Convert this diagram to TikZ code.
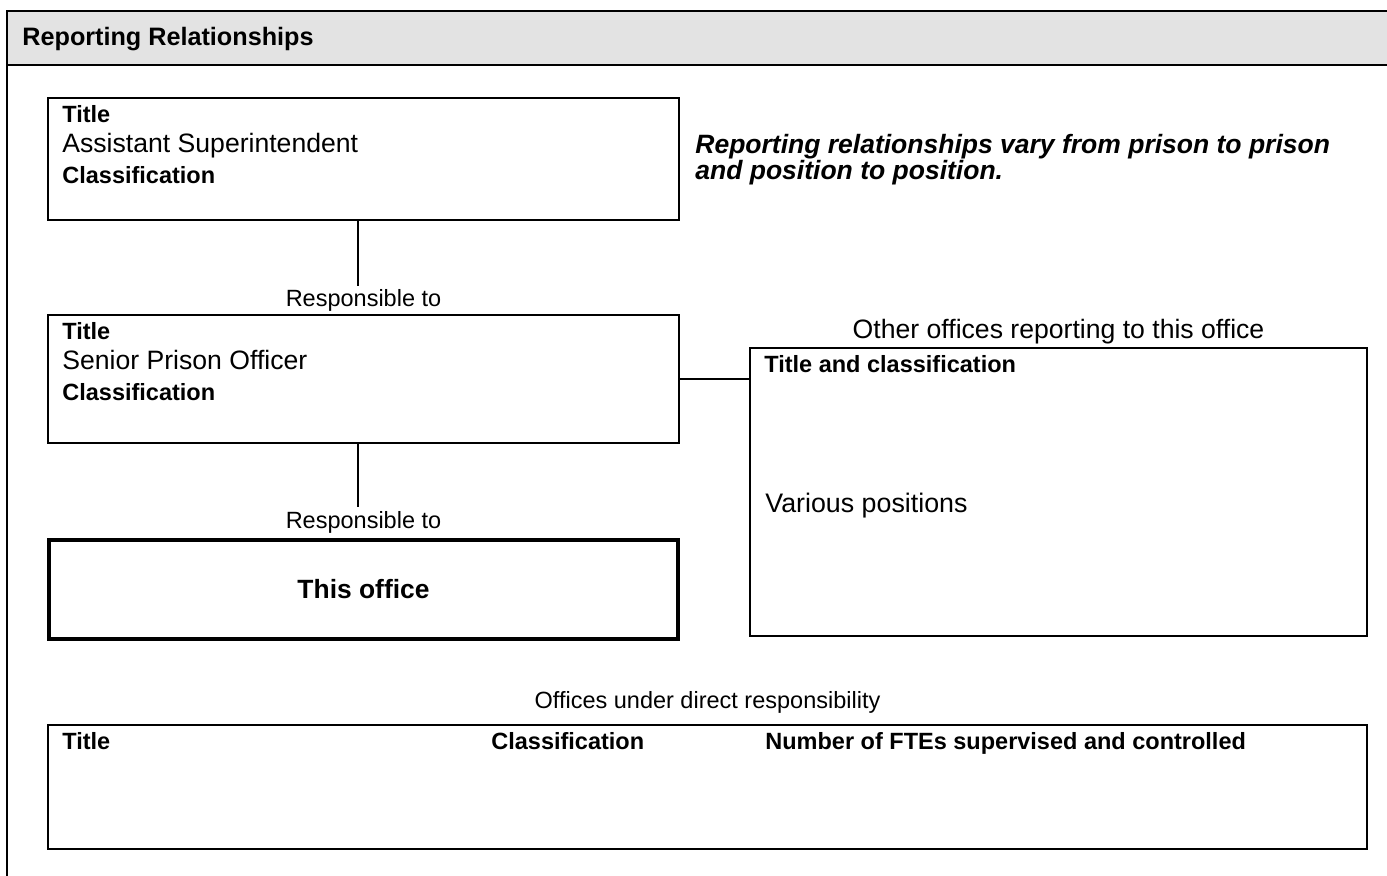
\documentclass[tikz,border=0pt]{standalone}
\usepackage{fontspec}
\setmainfont{Liberation Sans}
\usetikzlibrary{positioning,calc}
\tikzset{
    every node/.style={font=\fontsize{11.75}{15.25}\selectfont},
    officebox/.style={draw, line width=1pt, anchor=north west, inner sep=0pt},
    thisbox/.style={officebox, line width=2pt, font=\fontsize{13.2}{15}\selectfont\bfseries},
    boxtext/.style={align=left, inner sep=0pt},
    caption/.style={inner sep=0pt},
    colhead/.style={caption, anchor=base west, font=\fontsize{11.75}{15}\selectfont\bfseries},
    link/.style={line width=1pt},
}
\newcommand{\bigsize}{\fontsize{13.3}{15.25}\selectfont}

\begin{document}
\begin{tikzpicture}[x=0.5pt,y=-0.5pt]
\path[use as bounding box, clip] (0,0) rectangle (1387,876);
% header band of the form
\fill[black!11] (7,11) rectangle (1400,65);
\draw[link] (1400,11) -- (7,11) -- (7,900);
\draw[link] (7,65) -- (1400,65);
\node[caption, anchor=base west, font=\fontsize{12.6}{15}\selectfont\bfseries] (head) at (22,46) {Reporting Relationships};

% chain of offices
\node[officebox, minimum width=315.5pt, minimum height=61pt] (sup) at (47,97) {};
\node[officebox, minimum width=315.5pt, minimum height=64pt] (spo) at (47,314) {};
\node[thisbox, minimum width=314.5pt, minimum height=49.5pt] (this) at (47,538) {This office};
\node[officebox, minimum width=308.5pt, minimum height=144pt] (other) at (749,347) {};
\node[officebox, minimum width=659.5pt, minimum height=62pt] (under) at (47,724) {};

\node[boxtext, below right=4pt and 7.5pt of sup.north west] (suptxt)
  {\textbf{Title}\\{\bigsize Assistant Superintendent}\\\textbf{Classification}};
\node[boxtext, below right=4pt and 7.5pt of spo.north west] (spotxt)
  {\textbf{Title}\\{\bigsize Senior Prison Officer}\\\textbf{Classification}};
\node[boxtext, anchor=north west, font=\fontsize{13.25}{12.8}\selectfont\bfseries\itshape] (note) at (695,134)
  {Reporting relationships vary from prison to prison\\and position to position.};

\node[boxtext, below right=4pt and 7.5pt of other.north west] (othtxt) {\textbf{Title and classification}};
\node[caption, anchor=base west, font=\fontsize{13.4}{15}\selectfont] (various) at (765,513) {Various positions};

\node[boxtext, below right=4pt and 7.5pt of under.north west] (utitle) {\textbf{Title}};
\node[colhead] (ucls) at ($(utitle.base west)+(429,0)$) {Classification};
\node[colhead] (ufte) at ($(utitle.base west)+(703,0)$) {Number of FTEs supervised and controlled};

% captions over the boxes
\node[caption, above=1pt of spo.north] (resp1) {Responsible to};
\node[caption, above=2pt of this.north] (resp2) {Responsible to};
\node[caption, above=1.5pt of other.north, font=\bigsize] (otherlbl) {Other offices reporting to this office};
\node[caption, above=5pt of under.north] (underlbl) {Offices under direct responsibility};

% connectors
\coordinate[below=32.5pt of sup.south, xshift=-2.75pt] (upend);
\coordinate[below=31.5pt of spo.south, xshift=-2.75pt] (lowend);
\draw[link] (upend |- sup.south) -- (upend);
\draw[link] (lowend |- spo.south) -- (lowend);
\draw[link] (spo.east) -- (spo.east -| other.west);
\end{tikzpicture}
\end{document}
